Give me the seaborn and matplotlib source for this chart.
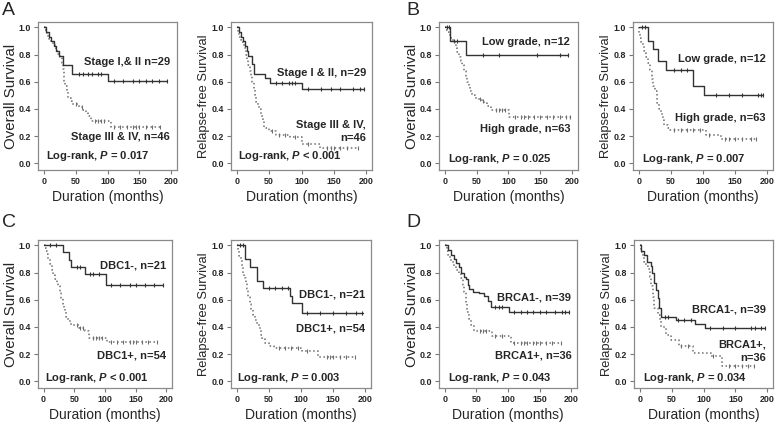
import numpy as np
import pandas as pd
import matplotlib
matplotlib.use("Agg")
import matplotlib.pyplot as plt
import seaborn as sns

# ---- values: time (months), survival fraction ----
# A: stage, overall survival
a_os_lo_t = [0, 3, 8, 12, 16, 20, 24, 30, 45, 100, 193]
a_os_lo_s = [1.0, 0.966, 0.931, 0.897, 0.862, 0.828, 0.793, 0.724, 0.655, 0.605, 0.605]
a_os_lo_c = [55, 62, 70, 75, 85, 90, 110, 125, 140, 150, 160, 170, 180, 193]
a_os_hi_t = [0, 2, 4, 6, 8, 12, 15, 18, 20, 22, 25, 28, 30, 31, 32, 34, 36, 38, 42, 45, 55, 62, 66, 70, 74, 105, 182]
a_os_hi_s = [1.0, 0.978, 0.957, 0.935, 0.913, 0.891, 0.87, 0.848, 0.826, 0.804, 0.783, 0.74, 0.696, 0.652,
             0.609, 0.565, 0.522, 0.478, 0.457, 0.435, 0.413, 0.39, 0.37, 0.345, 0.31, 0.27, 0.27]
a_os_hi_c = [50, 60, 80, 85, 90, 95, 110, 120, 130, 140, 145, 150, 160, 170, 182]
# A: stage, relapse-free survival
a_rfs_lo_t = [0, 3, 6, 9, 12, 15, 18, 23, 26, 43, 52, 101, 197]
a_rfs_lo_s = [1.0, 0.966, 0.931, 0.897, 0.862, 0.828, 0.793, 0.73, 0.658, 0.625, 0.59, 0.543, 0.543]
a_rfs_lo_c = [60, 70, 80, 85, 90, 110, 130, 145, 160, 180, 190, 197]
a_rfs_hi_t = [0, 2, 4, 6, 8, 10, 12, 14, 16, 18, 20, 22, 24, 26, 28, 30, 32, 34, 37, 40, 42, 50, 61, 82, 101, 128, 187]
a_rfs_hi_s = [1.0, 0.96, 0.93, 0.91, 0.89, 0.87, 0.85, 0.8, 0.76, 0.72, 0.68, 0.64, 0.6, 0.55, 0.5, 0.45,
              0.42, 0.4, 0.35, 0.32, 0.26, 0.24, 0.21, 0.19, 0.14, 0.11, 0.11]
a_rfs_hi_c = [55, 65, 75, 90, 110, 140, 145, 150, 160, 170, 187]

# B: grade, overall survival
b_os_lo_t = [0, 9, 33, 193]
b_os_lo_s = [1.0, 0.9, 0.8, 0.8]
b_os_lo_c = [3, 6, 15, 20, 60, 85, 145, 180, 193]
b_os_hi_t = [0, 2, 4, 6, 8, 10, 13, 16, 18, 20, 23, 25, 27, 30, 33, 35, 38, 40, 43, 47, 52, 58, 62, 67, 72, 101, 196]
b_os_hi_s = [1.0, 0.984, 0.968, 0.952, 0.937, 0.92, 0.9, 0.88, 0.85, 0.82, 0.78, 0.75, 0.72, 0.68, 0.64,
             0.6, 0.56, 0.53, 0.5, 0.48, 0.47, 0.46, 0.44, 0.42, 0.39, 0.34, 0.34]
b_os_hi_c = [55, 60, 80, 85, 90, 95, 110, 120, 125, 130, 140, 150, 160, 170, 180, 190, 196]
# B: grade, relapse-free survival
b_rfs_lo_t = [0, 15, 22, 30, 42, 84, 101, 194]
b_rfs_lo_s = [1.0, 0.9, 0.84, 0.75, 0.685, 0.57, 0.5, 0.5]
b_rfs_lo_c = [5, 10, 55, 65, 75, 120, 140, 160, 185, 190, 194]
b_rfs_hi_t = [0, 1, 2, 4, 6, 8, 10, 12, 15, 17, 20, 22, 25, 28, 31, 34, 37, 40, 45, 49, 62, 104, 128, 183]
b_rfs_hi_s = [1.0, 0.95, 0.92, 0.89, 0.86, 0.83, 0.81, 0.78, 0.74, 0.69, 0.62, 0.57, 0.53, 0.44, 0.4,
              0.36, 0.32, 0.28, 0.26, 0.247, 0.245, 0.21, 0.178, 0.178]
b_rfs_hi_c = [55, 65, 75, 85, 95, 110, 135, 140, 150, 160, 175, 183]

# C: DBC1, overall survival
c_os_lo_t = [0, 31, 42, 45, 68, 101, 195]
c_os_lo_s = [1.0, 0.95, 0.896, 0.84, 0.79, 0.706, 0.706]
c_os_lo_c = [10, 20, 55, 60, 75, 80, 90, 110, 125, 140, 150, 165, 180, 195]
c_os_hi_t = [0, 2, 4, 6, 8, 11, 14, 16, 19, 22, 24, 27, 29, 31, 33, 35, 37, 40, 45, 58, 68, 74, 103, 184]
c_os_hi_s = [1.0, 0.98, 0.96, 0.94, 0.9, 0.86, 0.82, 0.785, 0.75, 0.72, 0.7, 0.65, 0.61, 0.57, 0.54,
             0.51, 0.47, 0.44, 0.415, 0.39, 0.37, 0.32, 0.29, 0.29]
c_os_hi_c = [55, 60, 65, 80, 85, 90, 95, 110, 120, 130, 140, 145, 150, 160, 170, 184]
# C: DBC1, relapse-free survival
c_rfs_lo_t = [0, 13, 21, 31, 41, 83, 86, 101, 197]
c_rfs_lo_s = [1.0, 0.9, 0.84, 0.736, 0.686, 0.63, 0.575, 0.5, 0.5]
c_rfs_lo_c = [5, 10, 50, 60, 70, 80, 110, 130, 150, 170, 185, 195]
c_rfs_hi_t = [0, 2, 4, 6, 8, 10, 12, 14, 16, 18, 20, 22, 25, 28, 31, 34, 37, 40, 44, 50, 58, 101, 127, 184]
c_rfs_hi_s = [1.0, 0.96, 0.92, 0.89, 0.85, 0.8, 0.76, 0.72, 0.68, 0.62, 0.57, 0.53, 0.49, 0.45, 0.42,
              0.39, 0.34, 0.31, 0.28, 0.26, 0.245, 0.22, 0.18, 0.18]
c_rfs_hi_c = [65, 75, 85, 95, 110, 140, 145, 150, 160, 170, 184]

# D: BRCA1, overall survival
d_os_lo_t = [0, 5, 10, 14, 18, 22, 26, 30, 34, 37, 39, 44, 54, 62, 68, 73, 101, 196]
d_os_lo_s = [1.0, 0.97, 0.93, 0.9, 0.87, 0.84, 0.8, 0.77, 0.75, 0.71, 0.68, 0.66, 0.65, 0.625, 0.59,
             0.55, 0.51, 0.51]
d_os_lo_c = [80, 85, 90, 110, 120, 130, 140, 150, 160, 175, 185, 190, 196]
d_os_hi_t = [0, 3, 5, 8, 10, 14, 18, 22, 26, 29, 31, 33, 36, 39, 42, 46, 75, 104, 183]
d_os_hi_s = [1.0, 0.96, 0.93, 0.9, 0.88, 0.85, 0.82, 0.79, 0.76, 0.71, 0.66, 0.58, 0.51, 0.46, 0.415,
             0.37, 0.33, 0.285, 0.285]
d_os_hi_c = [55, 60, 65, 80, 90, 110, 120, 125, 130, 140, 145, 150, 160, 170, 183]
# D: BRCA1, relapse-free survival
d_rfs_lo_t = [0, 2, 7, 12, 18, 20, 23, 25, 28, 30, 33, 57, 86, 103, 196]
d_rfs_lo_s = [1.0, 0.96, 0.93, 0.88, 0.85, 0.8, 0.72, 0.67, 0.61, 0.54, 0.47, 0.45, 0.42, 0.39, 0.39]
d_rfs_lo_c = [40, 45, 60, 70, 80, 110, 130, 150, 175, 180, 190, 196]
d_rfs_hi_t = [0, 2, 5, 7, 10, 13, 16, 18, 21, 23, 28, 31, 34, 41, 49, 62, 83, 112, 129, 179]
d_rfs_hi_s = [1.0, 0.95, 0.92, 0.88, 0.85, 0.83, 0.77, 0.7, 0.62, 0.54, 0.49, 0.44, 0.4, 0.34, 0.3,
              0.26, 0.21, 0.185, 0.11, 0.11]
d_rfs_hi_c = [65, 75, 115, 140, 150, 160, 170, 179]

x_ticks = [0, 50, 100, 150, 200]
y_ticks = [0.0, 0.2, 0.4, 0.6, 0.8, 1.0]

sns.set_style("ticks")
plt.rcParams["font.family"] = ["Liberation Sans", "DejaVu Sans"]
plt.rcParams["mathtext.fontset"] = "custom"
plt.rcParams["mathtext.it"] = "Liberation Sans:italic:bold"
plt.rcParams["mathtext.rm"] = "Liberation Sans:bold"

SOLID = "#333333"
DOTTED = "#6e6e6e"
FW, FH = 778, 424


def px_axes(fig, left, top, w, h):
    return fig.add_axes([left / FW, 1 - (top + h) / FH, w / FW, h / FH])


def step_at(t, s, c):
    idx = np.searchsorted(np.asarray(t), np.asarray(c), side="right") - 1
    return np.asarray(s)[idx]


def km_panel(ax, lo, hi, ylabel, ylsize, ylpad, texts):
    for (t, s, c), col, ls, lw in [(hi, DOTTED, ":", 1.1), (lo, SOLID, "-", 1.0)]:
        df = pd.DataFrame({"t": t, "s": s})
        sns.lineplot(data=df, x="t", y="s", ax=ax, drawstyle="steps-post", color=col,
                     linestyle=ls, lw=lw, estimator=None, sort=False)
        cdf = pd.DataFrame({"t": c, "s": step_at(t, s, c)})
        sns.scatterplot(data=cdf, x="t", y="s", ax=ax, marker="|", s=10, color=col,
                        linewidth=0.8)
    ax.set_xlim(-9, 209)
    ax.set_ylim(-0.05, 1.04)
    ax.set_xticks(x_ticks)
    ax.set_xticklabels([str(v) for v in x_ticks])
    ax.set_yticks(y_ticks)
    ax.set_yticklabels([f"{v:.1f}" for v in y_ticks])
    ax.tick_params(length=3, width=0.8, color="#777777", labelsize=6.4, pad=2.2)
    for lab in ax.get_xticklabels() + ax.get_yticklabels():
        lab.set_fontweight("bold")
    for sp in ax.spines.values():
        sp.set_visible(True)
        sp.set_color("#8a8a8a")
        sp.set_linewidth(0.9)
    ax.set_xlabel("Duration (months)", fontsize=10, labelpad=3)
    ax.set_ylabel(ylabel, fontsize=ylsize, labelpad=ylpad)
    for x, y, s, ha in texts:
        ax.text(x, y, s, ha=ha, va="center", fontsize=8, fontweight="bold")


fig = plt.figure(figsize=(7.78, 4.24), dpi=100)

OS_LABEL = ("Overall Survival", 10.8, 0.3)
RFS_LABEL = ("Relapse-free Survival", 9.3, 0.6)

panels = [
    # left, top, width, height, lo, hi, ylabel spec, texts
    (38, 22, 139, 148, (a_os_lo_t, a_os_lo_s, a_os_lo_c), (a_os_hi_t, a_os_hi_s, a_os_hi_c), OS_LABEL,
     [(198, 0.745, "Stage I,& II n=29", "right"), (198, 0.19, "Stage III & IV, n=46", "right"),
      (3, 0.05, r"Log-rank, $P$ = 0.017", "left")]),
    (231, 22, 141, 148, (a_rfs_lo_t, a_rfs_lo_s, a_rfs_lo_c), (a_rfs_hi_t, a_rfs_hi_s, a_rfs_hi_c), RFS_LABEL,
     [(200, 0.665, "Stage I & II, n=29", "right"), (200, 0.28, "Stage III & IV,", "right"),
      (200, 0.186, "n=46", "right"), (2, 0.05, r"Log-rank, $P$ < 0.001", "left")]),
    (439, 22, 139, 148, (b_os_lo_t, b_os_lo_s, b_os_lo_c), (b_os_hi_t, b_os_hi_s, b_os_hi_c), OS_LABEL,
     [(197, 0.89, "Low grade, n=12", "right"), (197, 0.25, "High grade, n=63", "right"),
      (5, 0.03, r"Log-rank, $P$ = 0.025", "left")]),
    (633, 22, 140, 148, (b_rfs_lo_t, b_rfs_lo_s, b_rfs_lo_c), (b_rfs_hi_t, b_rfs_hi_s, b_rfs_hi_c), RFS_LABEL,
     [(198, 0.77, "Low grade, n=12", "right"), (198, 0.335, "High grade, n=63", "right"),
      (5, 0.03, r"Log-rank, $P$ = 0.007", "left")]),
    (38, 240, 134, 148, (c_os_lo_t, c_os_lo_s, c_os_lo_c), (c_os_hi_t, c_os_hi_s, c_os_hi_c), OS_LABEL,
     [(200, 0.85, "DBC1-, n=21", "right"), (200, 0.19, "DBC1+, n=54", "right"),
      (3, 0.027, r"Log-rank, $P$ < 0.001", "left")]),
    (231, 240, 140, 148, (c_rfs_lo_t, c_rfs_lo_s, c_rfs_lo_c), (c_rfs_hi_t, c_rfs_hi_s, c_rfs_hi_c), RFS_LABEL,
     [(200, 0.64, "DBC1-, n=21", "right"), (200, 0.39, "DBC1+, n=54", "right"),
      (1, 0.027, r"Log-rank, $P$ = 0.003", "left")]),
    (439, 240, 138, 148, (d_os_lo_t, d_os_lo_s, d_os_lo_c), (d_os_hi_t, d_os_hi_s, d_os_hi_c), OS_LABEL,
     [(200, 0.62, "BRCA1-, n=39", "right"), (200, 0.19, "BRCA1+, n=36", "right"),
      (5, 0.027, r"Log-rank, $P$ = 0.043", "left")]),
    (634, 240, 139, 148, (d_rfs_lo_t, d_rfs_lo_s, d_rfs_lo_c), (d_rfs_hi_t, d_rfs_hi_s, d_rfs_hi_c), RFS_LABEL,
     [(198, 0.53, "BRCA1-, n=39", "right"), (198, 0.267, "BRCA1+,", "right"),
      (198, 0.173, "n=36", "right"), (5, 0.027, r"Log-rank, $P$ = 0.034", "left")]),
]

for left, top, w, h, lo, hi, (ylabel, ylsize, ylpad), texts in panels:
    ax = px_axes(fig, left, top, w, h)
    km_panel(ax, lo, hi, ylabel, ylsize, ylpad, texts)

# panel letters
for letter, x, y in [("A", 2, 2), ("B", 406, 2), ("C", 2, 214), ("D", 406, 214)]:
    fig.text(x / FW, 1 - y / FH, letter, fontsize=14, ha="left", va="top")

fig.savefig("out.png", dpi=100)
